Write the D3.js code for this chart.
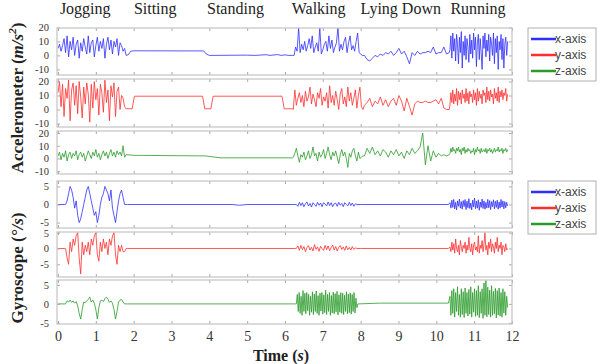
<!DOCTYPE html>
<html>
<head>
<meta charset="utf-8">
<script src="https://cdn.jsdelivr.net/npm/d3@7"></script>
<style>
  body { margin: 0; background: #fff; }
  svg { display: block; }
</style>
</head>
<body>
<svg id="c" width="605" height="364"></svg>
<script>
// activity names and their centre time on the plot
const activities = ["Jogging", "Sitting", "Standing", "Walking", "Lying Down", "Running"];
const activityT = [0.72, 2.57, 4.69, 6.89, 9.06, 11.1];
const timeTicks = [0, 1, 2, 3, 4, 5, 6, 7, 8, 9, 10, 11, 12];
const accTicks = [20, 10, 0, -10];
const gyroTicks = [5, 0, -5];
const legendNames = ["x-axis", "y-axis", "z-axis"];
const colors = ["#2e2eff", "#ff2e2e", "#2a9a2a"];

// samples at a fixed step
const seg = (t0, dt, vals) => vals.map((v, i) => [t0 + i * dt, v]);

const accX = [].concat(
  seg(0, 0.04, [5, 8, 3, 7, 12, 2, 14, -1, 10, 4, 13, 0, 8, 11, -2, 9, 3, 12, 6, 1, 14, 2, 9, 11, -1, 7, 13, 3, 10, 5, 12, -2, 8, 13, 4, 11, 1, 10, 6, 12, 0, 9, 7, 3, 5]),
  [[1.8, 0], [1.86, 0.5], [1.92, 3], [2.0, 3.3], [3.85, 3.2], [3.92, 1], [4.0, 0], [5.0, 0.2], [5.2, 0], [5.5, 0.5], [5.6, 0], [5.8, 0.6], [5.9, 0], [6.0, 0.4], [6.1, 0], [6.2, 0]],
  seg(6.24, 0.04, [0, 6, 3, 20, 2, 8, 4, 10, 3, 7, 12, 5, 14, 2, 6, 9, 3, 20, 1, 4, 8, 10, 3, 14, 5, 11, 2, 6, 9, 20, 3, 8, 4, 10, 13, 2, 9, 14, 4, 7, 3, 10, 16, 2, 1, 0]),
  seg(8.1, 0.07, [0, -3, -4, -2, 0, -1, 1, 0, 2, 1, 3, 0, 2, 5, 1, 3, -1, -6, 2, 0, 3, 1, 2, 2, 3, 2, 6, 1, 2, 2, 6, 1, 2]),
  seg(10.36, 0.025, [4, 14, -2, 16, 3, 12, -4, 15, 8, -6, 13, 2, 17, -9, 10, 0, 14, -3, 12, 6, -5, 15, 1, 11, -2, 16, 4, 13, -8, 9, 15, -3, 12, 2, -10, 14, 5, 16, -1, 11, 3, 15, -4, 13, 8, 0, 16, -6, 12, 2, 14, -10, 10, 4, 15, -3, 12, -9, 8, 13, 0, 10])
);

const accY = [].concat(
  seg(0, 0.04, [12, 20, 2, 18, -5, 15, 8, 21, -8, 14, 19, 3, 17, -3, 20, 9, -6, 16, 4, 19, 11, -9, 18, 1, 20, 7, 15, -4, 18, 12, -2, 21, 5, 14, -8, 17, 9, 19, -5, 13, 16, 0, 10, 8, 2]),
  [[1.8, 0.5], [1.96, 0.5], [2.02, 9.5], [3.82, 9.5], [3.88, 0.5], [4.04, 0.5], [4.1, 9.5], [5.92, 9.5], [5.98, 0.5], [6.2, 0.5]],
  seg(6.22, 0.04, [0, 14, 3, 8, 12, 5, 10, 2, 13, 6, 9, 16, 4, 11, 7, 2, 12, 8, 15, 3, 9, 6, 12, 1, 17, 5, 10, 3, 13, 7, 0, 11, 15, 4, 9, 2, 16, 6, 12, 3, 8, 14, 1, 10, 16, 2, 0]),
  seg(8.1, 0.07, [3, 5, 8, 2, 6, 4, 9, 3, 7, 2, 6, 8, 3, 10, 6, -1, 8, 2, -4, 4, 6, 5, 5, 6, 5, 5, 6, 7, 4, 8, 1, 0, 0]),
  seg(10.36, 0.025, [3, 12, 5, 14, 4, 11, 6, 15, 3, 13, 7, 12, 4, 14, 8, 11, 5, 15, 6, 12, 4, 13, 9, 11, 5, 14, 7, 12, 3, 15, 6, 13, 8, 11, 4, 14, 10, 12, 5, 16, 7, 13, 6, 14, 9, 11, 4, 15, 8, 12, 6, 16, 5, 13, 9, 14, 7, 12, 10, 15, 6, 11])
);

const accZ = [].concat(
  seg(0, 0.04, [2, 5, -1, 4, 1, 6, -2, 3, 5, 0, 4, 2, 6, -1, 3, 5, 1, 4, -2, 2, 6, 3, 0, 5, 2, 7, 1, 4, -1, 3, 6, 2, 5, 0, 4, 7, 2, 5, 1, 6, 3, 5, 2, 10, 1]),
  [[1.8, 3], [2.0, 2.5], [3.9, 2], [4.3, 0.5], [6.2, 0.5]],
  seg(6.22, 0.04, [1, 4, 8, 2, -3, 3, 1, 5, -1, 2, 6, 0, 3, 9, 2, 4, -2, 5, 1, 3, 7, 0, 4, 9, 3, -1, 5, 2, 6, 1, -4, 3, 7, 2, 5, 0, -7, 4, 1, 6, 8, 2, -2, 5, 0, 1, 2]),
  seg(8.1, 0.07, [2, 8, 4, 9, 3, 6, 2, 7, 5, 1, 6, 3, 7, 2, 5, 0, 6, 3, 8, 4, 6, 9, 20, -5, 10, -2, 6, 1, 4, 2, 3, 2, 3]),
  seg(10.36, 0.025, [4, 8, 5, 9, 6, 7, 4, 8, 6, 9, 5, 7, 3, 8, 6, 9, 4, 7, 5, 8, 6, 7, 4, 6, 5, 8, 3, 7, 5, 9, 6, 7, 4, 8, 5, 6, 7, 5, 8, 4, 7, 6, 8, 5, 7, 4, 6, 8, 5, 7, 6, 9, 5, 7, 6, 8, 4, 7, 6, 8, 5, 7])
);

const gyroX = [].concat(
  [[0, 0], [0.18, 0]],
  seg(0.2, 0.04, [0, 1, 3, 5, 4, 2, -1, 1, -3, -5, -4, -2, 0, 2, 4, 5, 3, 1, -1, -3, -2, -5, -3, 0, 2, 3, 5, 4, 3, 1, 4, -1, -3, -5, -2, 1, 3, 4, 2, 0, 0]),
  [[1.84, 0], [4.6, 0], [4.8, -0.2], [5.0, 0], [6.28, 0]],
  seg(6.3, 0.04, [0, -0.5, 0.6, -0.3, 0.5, -0.6, 0.2, 0.7, -0.4, 0.3, -0.7, 0.5, 0, -0.5, 0.6, -0.2, 0.4, -0.6, 0.5, 0.1, -0.4, 0.7, -0.3, 0.5, -0.6, 0.2, 0.4, -0.5, 0.6, -0.2, 0.3, -0.6, 0.5, 0, -0.4, 0.6, -0.3, 0.4, -0.5, 0.2, 0]),
  [[8.0, 0], [10.32, 0]],
  seg(10.36, 0.025, [0.5, -1, 1.2, -0.8, 1.4, -1.2, 0.6, -1.5, 1, -0.5, 1.5, -1, 0.8, -1.3, 1.1, -0.6, 1.4, -1.4, 0.9, -0.9, 1.6, -1.1, 0.4, -1.5, 1.2, -0.7, 1.8, -1.2, 0.9, -1, 1.3, -1.6, 0.7, -0.8, 1.5, -1.1, 1, -1.3, 0.6, -1, 1.4, -0.9, 1.1, -1.4, 0.8, -0.6, 1.3, -1.2, 0.9, -0.8, 1.2, -1.3, 0.7, -1, 1.4, -0.7, 1, -1.2, 0.8, -0.9, 0.6, -0.4])
);

const gyroY = [].concat(
  [[0, 0], [0.18, 0]],
  seg(0.2, 0.04, [0, -3, -5, 2, -1, 3, 1, 4, 5, -3, -8, 2, -2, 1, -1, 2, -2, 3, 1, 4, 5, -2, -4, 2, -1, 3, 0, 2, -2, 3, 1, 4, 5, -2, -5, 1, -1, 1, -1, -1, 0]),
  [[1.84, 0], [6.28, 0]],
  seg(6.3, 0.04, [0, 0.8, -0.6, 1, -0.4, 0.6, -1, 0.3, 0.9, -0.5, 0.4, -0.8, 1.2, -0.3, 0.5, -0.9, 0.7, 0, -0.6, 1, -0.4, 0.8, -0.7, 0.3, 1.1, -0.5, 0.6, -0.8, 0.4, 0.9, -0.3, 0.5, -0.6, 0.8, -0.4, 0.3, -0.5, 0.6, -0.3, 0.2, 0]),
  [[8.0, 0], [10.32, 0]],
  seg(10.36, 0.025, [0.5, -1, 2, -0.5, 1.5, -1.5, 3, 0, -1, 1, -2, 2.5, 0.5, -1, 1, 0, 2, -1.5, 1, -0.5, 3.5, 0, -1, 1.5, -2, 1, 2, -0.5, 0.5, -1, 4, -1.5, 1, 0, 2.5, -1, 1.5, 5, -0.5, 1, -2, 2, 0, 3, -1, 1.5, 0.5, -1.5, 2, 0, 3.5, -1, 1, 0, 2, -2, 1, 0.5, -1, 1.5, -0.5, 0])
);

const gyroZ = [].concat(
  [[0, 0], [0.18, 0]],
  seg(0.2, 0.04, [0, 0.8, 0.5, 1, 0.4, 0.8, 0.2, 0.6, -0.5, -2.5, -4, -1.5, 0.5, 0.3, 0.8, 1.2, 1.8, 0.5, 1, 0.2, -1.5, -4, -1, 0.8, 1, 0.6, 1.4, 1.8, 1.2, 0.4, 0.8, 0.2, -1.5, -4, -2, 0.5, 1, 1.2, 0.5, 0, 0]),
  [[1.84, 0], [6.28, 0]],
  seg(6.3, 0.025, [0, 2.5, -2, 3, -2.5, 2, -3, 3.5, -2, 2.8, -2.6, 3, -1.8, 2.5, -3, 2, -2.2, 3.2, -2.8, 2.6, -2, 3.4, -2.5, 2.2, -3, 2.8, -1.9, 3, -2.7, 2.4, -2.3, 3.6, -2.8, 2.5, -2, 3, -3, 2.2, -2.4, 3.1, -2.6, 2.7, -2.1, 3.3, -2.9, 2.4, -2.2, 3, -2.5, 2.8, -2.8, 2.3, -2, 3.2, -2.6, 2.6, -2.3, 2.9, -2.7, 2.5, -2, 3, -2.4, 1.5, -1, 0]),
  [[7.95, 0], [8.5, 0.2], [10.32, 0.2]],
  seg(10.36, 0.025, [2, -3, 3.5, -2.5, 4, -3.5, 3, -2, 4.5, -3, 2.5, -3.5, 4, -2.8, 3.2, -3.6, 4.2, -2.5, 3, -3.2, 3.8, -2.7, 4.5, -3.5, 3, -2.2, 4, -3.3, 3.5, -3, 4.8, -3.6, 3.2, -2.5, 4, -3.8, 5.5, -3, 6.2, -3.4, 4.4, -2.8, 3.6, -3.5, 4.8, -3, 3.3, -2.6, 4.1, -3.7, 3.5, -2.9, 4.2, -3.2, 3, -3.5, 4, -2.4, 3.2, -3, 2, -1])
);

const panels = [
  { data: accX, c: 0, dom: [-14, 19.6], ticks: accTicks, top: 28, h: 47 },
  { data: accY, c: 1, dom: [-12.5, 21.8], ticks: accTicks, top: 79, h: 48 },
  { data: accZ, c: 2, dom: [-12.2, 21.6], ticks: accTicks, top: 131, h: 43 },
  { data: gyroX, c: 0, dom: [-6.5, 6.5], ticks: gyroTicks, top: 181, h: 47 },
  { data: gyroY, c: 1, dom: [-9, 5.2], ticks: gyroTicks, top: 232, h: 45 },
  { data: gyroZ, c: 2, dom: [-5.3, 6.3], ticks: gyroTicks, top: 280, h: 44 }
];

const serif = "'Liberation Serif', 'Times New Roman', serif";
const sans = "'Liberation Sans', Arial, sans-serif";
const svg = d3.select("#c");
const x = d3.scaleLinear().domain([0, 12]).range([58, 512]);
const fL = 57, fR = 512;
const defs = svg.append("defs");

panels.forEach((p, i) => {
  const y = d3.scaleLinear().domain(p.dom).range([p.top + p.h, p.top]);
  const g = svg.append("g");
  defs.append("clipPath").attr("id", "cp" + i).append("rect")
    .attr("x", fL).attr("y", p.top).attr("width", fR - fL).attr("height", p.h);

  g.append("rect").attr("x", fL).attr("y", p.top).attr("width", fR - fL).attr("height", p.h)
    .attr("fill", "#fff");

  g.append("path").datum(p.data).attr("clip-path", `url(#cp${i})`)
    .attr("fill", "none").attr("stroke", colors[p.c]).attr("stroke-width", 0.8)
    .attr("stroke-linejoin", "round")
    .attr("d", d3.line().x(d => x(d[0])).y(d => y(d[1])));

  const left = g.append("g").attr("transform", `translate(${fL},0)`)
    .call(d3.axisLeft(y).tickValues(p.ticks).tickSize(-3).tickPadding(8).tickFormat(d => String(d)));
  const right = g.append("g").attr("transform", `translate(${fR},0)`)
    .call(d3.axisRight(y).tickValues(p.ticks).tickSize(-3).tickFormat(""));
  const top = g.append("g").attr("transform", `translate(0,${p.top})`)
    .call(d3.axisTop(x).tickValues(timeTicks).tickSize(-3).tickFormat(""));
  const last = i === panels.length - 1;
  const bot = g.append("g").attr("transform", `translate(0,${p.top + p.h})`)
    .call(d3.axisBottom(x).tickValues(timeTicks).tickSize(-3).tickPadding(7)
      .tickFormat(last ? d => String(d) : ""));

  [left, right, top, bot].forEach(a => {
    a.select(".domain").remove();
    a.selectAll(".tick line").attr("stroke", "#aaa");
    a.selectAll("text").attr("font-family", serif).attr("fill", "#333");
  });
  left.selectAll("text").attr("font-size", 10.5);
  bot.selectAll("text").attr("font-size", 14);

  g.append("rect").attr("x", fL).attr("y", p.top).attr("width", fR - fL).attr("height", p.h)
    .attr("fill", "none").attr("stroke", "#c4c4c4").attr("stroke-width", 1.2);
});

// activity names above the plot
svg.append("g").selectAll("text").data(activities).enter().append("text")
  .attr("x", (d, i) => x(activityT[i])).attr("y", 14)
  .attr("text-anchor", "middle").attr("font-family", serif).attr("font-size", 16)
  .attr("fill", "#222").text(d => d);

// axis titles
const yTitle = (cx, cy, main, unit, sup) => {
  const t = svg.append("text").attr("transform", `translate(${cx},${cy}) rotate(-90)`)
    .attr("text-anchor", "middle").attr("font-family", serif).attr("font-size", 17)
    .attr("font-weight", "bold").attr("fill", "#222");
  t.append("tspan").text(main + " (");
  t.append("tspan").attr("font-style", "italic").text(unit);
  if (sup) t.append("tspan").attr("font-style", "italic").attr("font-size", 11).attr("dy", -7).text(sup);
  t.append("tspan").attr("dy", sup ? 7 : 0).text(")");
};
yTitle(23, 98, "Accelerometer", "m/s", "2");
yTitle(23, 268, "Gyroscope", "°/s", null);

const xt = svg.append("text").attr("x", 281).attr("y", 361).attr("text-anchor", "middle")
  .attr("font-family", serif).attr("font-size", 16).attr("font-weight", "bold").attr("fill", "#222");
xt.append("tspan").text("Time (");
xt.append("tspan").attr("font-style", "italic").text("s");
xt.append("tspan").text(")");

// legends
[28, 181].forEach(ly => {
  const lg = svg.append("g").attr("transform", `translate(528,${ly})`);
  lg.append("rect").attr("width", 68).attr("height", 53).attr("fill", "#fff")
    .attr("stroke", "#b0b0b0").attr("stroke-width", 1);
  legendNames.forEach((n, k) => {
    const yy = 11 + k * 16;
    lg.append("line").attr("x1", 3).attr("x2", 28).attr("y1", yy).attr("y2", yy)
      .attr("stroke", colors[k]).attr("stroke-width", 2.5);
    lg.append("text").attr("x", 27).attr("y", yy + 4).attr("font-family", sans)
      .attr("font-size", 12).attr("fill", "#444").text(n);
  });
});
</script>
</body>
</html>
